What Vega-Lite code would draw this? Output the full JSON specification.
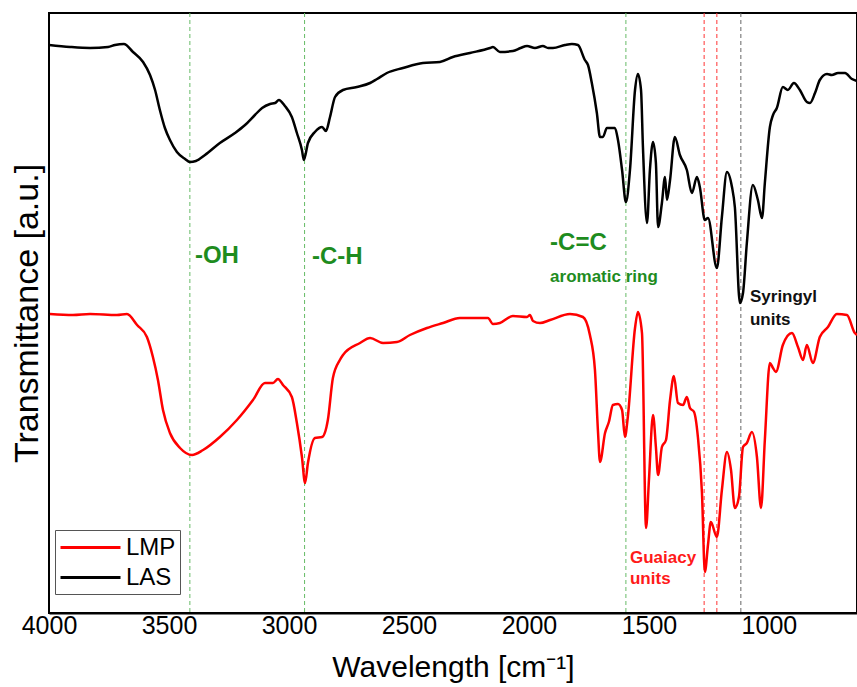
{
  "$schema": "https://vega.github.io/schema/vega-lite/v6.json",
  "width": 808,
  "height": 600,
  "autosize": "none",
  "padding": {"left": 49, "top": 13, "right": 0, "bottom": 74},
  "background": "white",
  "config": {
    "font": "Liberation Sans",
    "view": {"stroke": "black", "strokeWidth": 2},
    "axisX": {"labelFontSize": 25, "labelColor": "black", "labelFlush": false, "labelOverlap": false, "ticks": false, "grid": false, "domainColor": "black", "domainWidth": 2, "labelPadding": 0, "format": "d", "titleFontSize": 30, "titleFontWeight": "normal", "titleColor": "black", "titlePadding": 14},
    "axisY": {"titleFontSize": 34, "titleFontWeight": "normal", "titleColor": "black", "titlePadding": 5},
    "legend": {"orient": "none", "legendX": 6, "legendY": 517, "strokeColor": "#555555", "strokeWidth": 1, "padding": 4, "labelFontSize": 24, "labelColor": "black", "symbolType": "M-1,0H4", "symbolSize": 576, "symbolStrokeWidth": 3, "labelOffset": 40, "rowPadding": 4, "fillColor": "white"}
  },
  "datasets": {
    "spectra": [
      {"wn": 4000, "t": 568, "series": "LAS"}, {"wn": 3912, "t": 566, "series": "LAS"}, {"wn": 3829, "t": 565, "series": "LAS"}, {"wn": 3754, "t": 566, "series": "LAS"}, {"wn": 3725, "t": 568, "series": "LAS"}, {"wn": 3688, "t": 569, "series": "LAS"}, {"wn": 3650, "t": 561, "series": "LAS"}, {"wn": 3608, "t": 551, "series": "LAS"}, {"wn": 3579, "t": 538, "series": "LAS"}, {"wn": 3558, "t": 523, "series": "LAS"}, {"wn": 3538, "t": 503, "series": "LAS"}, {"wn": 3517, "t": 485, "series": "LAS"}, {"wn": 3496, "t": 473, "series": "LAS"}, {"wn": 3467, "t": 461, "series": "LAS"}, {"wn": 3433, "t": 454, "series": "LAS"}, {"wn": 3413, "t": 451, "series": "LAS"}, {"wn": 3388, "t": 452, "series": "LAS"}, {"wn": 3350, "t": 458, "series": "LAS"}, {"wn": 3288, "t": 470, "series": "LAS"}, {"wn": 3225, "t": 480, "series": "LAS"}, {"wn": 3183, "t": 488, "series": "LAS"}, {"wn": 3142, "t": 498, "series": "LAS"}, {"wn": 3112, "t": 505, "series": "LAS"}, {"wn": 3079, "t": 509, "series": "LAS"}, {"wn": 3058, "t": 510, "series": "LAS"}, {"wn": 3042, "t": 513, "series": "LAS"}, {"wn": 3017, "t": 507, "series": "LAS"}, {"wn": 2988, "t": 496, "series": "LAS"}, {"wn": 2967, "t": 480, "series": "LAS"}, {"wn": 2946, "t": 463, "series": "LAS"}, {"wn": 2938, "t": 453, "series": "LAS"}, {"wn": 2921, "t": 470, "series": "LAS"}, {"wn": 2892, "t": 481, "series": "LAS"}, {"wn": 2862, "t": 486, "series": "LAS"}, {"wn": 2846, "t": 482, "series": "LAS"}, {"wn": 2829, "t": 496, "series": "LAS"}, {"wn": 2808, "t": 516, "series": "LAS"}, {"wn": 2775, "t": 523, "series": "LAS"}, {"wn": 2717, "t": 526, "series": "LAS"}, {"wn": 2662, "t": 530, "series": "LAS"}, {"wn": 2633, "t": 534, "series": "LAS"}, {"wn": 2592, "t": 540, "series": "LAS"}, {"wn": 2525, "t": 545, "series": "LAS"}, {"wn": 2442, "t": 550, "series": "LAS"}, {"wn": 2371, "t": 551, "series": "LAS"}, {"wn": 2317, "t": 556, "series": "LAS"}, {"wn": 2246, "t": 560, "series": "LAS"}, {"wn": 2162, "t": 565, "series": "LAS"}, {"wn": 2150, "t": 566, "series": "LAS"}, {"wn": 2121, "t": 561, "series": "LAS"}, {"wn": 2067, "t": 562, "series": "LAS"}, {"wn": 2035, "t": 565, "series": "LAS"}, {"wn": 2008, "t": 567, "series": "LAS"}, {"wn": 1975, "t": 565, "series": "LAS"}, {"wn": 1942, "t": 567, "series": "LAS"}, {"wn": 1920, "t": 565, "series": "LAS"}, {"wn": 1900, "t": 565, "series": "LAS"}, {"wn": 1850, "t": 568, "series": "LAS"}, {"wn": 1821, "t": 569, "series": "LAS"}, {"wn": 1796, "t": 568, "series": "LAS"}, {"wn": 1767, "t": 553, "series": "LAS"}, {"wn": 1754, "t": 548, "series": "LAS"}, {"wn": 1738, "t": 530, "series": "LAS"}, {"wn": 1717, "t": 500, "series": "LAS"}, {"wn": 1704, "t": 476, "series": "LAS"}, {"wn": 1692, "t": 476, "series": "LAS"}, {"wn": 1675, "t": 485, "series": "LAS"}, {"wn": 1642, "t": 485, "series": "LAS"}, {"wn": 1629, "t": 473, "series": "LAS"}, {"wn": 1612, "t": 443, "series": "LAS"}, {"wn": 1596, "t": 411, "series": "LAS"}, {"wn": 1579, "t": 443, "series": "LAS"}, {"wn": 1558, "t": 523, "series": "LAS"}, {"wn": 1546, "t": 539, "series": "LAS"}, {"wn": 1533, "t": 523, "series": "LAS"}, {"wn": 1525, "t": 466, "series": "LAS"}, {"wn": 1508, "t": 390, "series": "LAS"}, {"wn": 1496, "t": 443, "series": "LAS"}, {"wn": 1483, "t": 471, "series": "LAS"}, {"wn": 1471, "t": 450, "series": "LAS"}, {"wn": 1462, "t": 386, "series": "LAS"}, {"wn": 1446, "t": 410, "series": "LAS"}, {"wn": 1433, "t": 436, "series": "LAS"}, {"wn": 1425, "t": 413, "series": "LAS"}, {"wn": 1412, "t": 433, "series": "LAS"}, {"wn": 1392, "t": 476, "series": "LAS"}, {"wn": 1371, "t": 458, "series": "LAS"}, {"wn": 1342, "t": 443, "series": "LAS"}, {"wn": 1321, "t": 420, "series": "LAS"}, {"wn": 1300, "t": 436, "series": "LAS"}, {"wn": 1288, "t": 426, "series": "LAS"}, {"wn": 1267, "t": 393, "series": "LAS"}, {"wn": 1254, "t": 395, "series": "LAS"}, {"wn": 1217, "t": 345, "series": "LAS"}, {"wn": 1196, "t": 396, "series": "LAS"}, {"wn": 1175, "t": 441, "series": "LAS"}, {"wn": 1154, "t": 426, "series": "LAS"}, {"wn": 1142, "t": 406, "series": "LAS"}, {"wn": 1121, "t": 310, "series": "LAS"}, {"wn": 1108, "t": 320, "series": "LAS"}, {"wn": 1092, "t": 370, "series": "LAS"}, {"wn": 1067, "t": 428, "series": "LAS"}, {"wn": 1046, "t": 413, "series": "LAS"}, {"wn": 1029, "t": 395, "series": "LAS"}, {"wn": 1017, "t": 430, "series": "LAS"}, {"wn": 996, "t": 486, "series": "LAS"}, {"wn": 983, "t": 498, "series": "LAS"}, {"wn": 967, "t": 505, "series": "LAS"}, {"wn": 942, "t": 526, "series": "LAS"}, {"wn": 921, "t": 523, "series": "LAS"}, {"wn": 896, "t": 530, "series": "LAS"}, {"wn": 871, "t": 523, "series": "LAS"}, {"wn": 842, "t": 511, "series": "LAS"}, {"wn": 829, "t": 510, "series": "LAS"}, {"wn": 808, "t": 520, "series": "LAS"}, {"wn": 788, "t": 533, "series": "LAS"}, {"wn": 758, "t": 539, "series": "LAS"}, {"wn": 738, "t": 538, "series": "LAS"}, {"wn": 712, "t": 540, "series": "LAS"}, {"wn": 683, "t": 540, "series": "LAS"}, {"wn": 654, "t": 534, "series": "LAS"}, {"wn": 633, "t": 532, "series": "LAS"},
      {"wn": 3996, "t": 299, "series": "LMP"}, {"wn": 3900, "t": 298, "series": "LMP"}, {"wn": 3829, "t": 299, "series": "LMP"}, {"wn": 3717, "t": 298, "series": "LMP"}, {"wn": 3675, "t": 299, "series": "LMP"}, {"wn": 3633, "t": 288, "series": "LMP"}, {"wn": 3592, "t": 276, "series": "LMP"}, {"wn": 3567, "t": 256, "series": "LMP"}, {"wn": 3546, "t": 233, "series": "LMP"}, {"wn": 3525, "t": 203, "series": "LMP"}, {"wn": 3496, "t": 180, "series": "LMP"}, {"wn": 3454, "t": 165, "series": "LMP"}, {"wn": 3404, "t": 158, "series": "LMP"}, {"wn": 3358, "t": 163, "series": "LMP"}, {"wn": 3288, "t": 176, "series": "LMP"}, {"wn": 3217, "t": 193, "series": "LMP"}, {"wn": 3150, "t": 213, "series": "LMP"}, {"wn": 3100, "t": 230, "series": "LMP"}, {"wn": 3067, "t": 230, "series": "LMP"}, {"wn": 3046, "t": 234, "series": "LMP"}, {"wn": 3025, "t": 228, "series": "LMP"}, {"wn": 2988, "t": 216, "series": "LMP"}, {"wn": 2967, "t": 190, "series": "LMP"}, {"wn": 2946, "t": 156, "series": "LMP"}, {"wn": 2933, "t": 130, "series": "LMP"}, {"wn": 2921, "t": 150, "series": "LMP"}, {"wn": 2892, "t": 175, "series": "LMP"}, {"wn": 2862, "t": 176, "series": "LMP"}, {"wn": 2838, "t": 193, "series": "LMP"}, {"wn": 2817, "t": 235, "series": "LMP"}, {"wn": 2788, "t": 253, "series": "LMP"}, {"wn": 2775, "t": 258, "series": "LMP"}, {"wn": 2704, "t": 270, "series": "LMP"}, {"wn": 2662, "t": 275, "series": "LMP"}, {"wn": 2608, "t": 270, "series": "LMP"}, {"wn": 2550, "t": 271, "series": "LMP"}, {"wn": 2496, "t": 278, "series": "LMP"}, {"wn": 2425, "t": 285, "series": "LMP"}, {"wn": 2358, "t": 290, "series": "LMP"}, {"wn": 2288, "t": 295, "series": "LMP"}, {"wn": 2171, "t": 295, "series": "LMP"}, {"wn": 2150, "t": 289, "series": "LMP"}, {"wn": 2121, "t": 290, "series": "LMP"}, {"wn": 2067, "t": 297, "series": "LMP"}, {"wn": 2008, "t": 296, "series": "LMP"}, {"wn": 1996, "t": 298, "series": "LMP"}, {"wn": 1983, "t": 292, "series": "LMP"}, {"wn": 1954, "t": 290, "series": "LMP"}, {"wn": 1912, "t": 293, "series": "LMP"}, {"wn": 1829, "t": 299, "series": "LMP"}, {"wn": 1775, "t": 296, "series": "LMP"}, {"wn": 1746, "t": 278, "series": "LMP"}, {"wn": 1725, "t": 243, "series": "LMP"}, {"wn": 1712, "t": 180, "series": "LMP"}, {"wn": 1704, "t": 151, "series": "LMP"}, {"wn": 1683, "t": 180, "series": "LMP"}, {"wn": 1667, "t": 191, "series": "LMP"}, {"wn": 1650, "t": 208, "series": "LMP"}, {"wn": 1629, "t": 209, "series": "LMP"}, {"wn": 1612, "t": 203, "series": "LMP"}, {"wn": 1600, "t": 176, "series": "LMP"}, {"wn": 1588, "t": 196, "series": "LMP"}, {"wn": 1558, "t": 285, "series": "LMP"}, {"wn": 1546, "t": 301, "series": "LMP"}, {"wn": 1529, "t": 280, "series": "LMP"}, {"wn": 1512, "t": 85, "series": "LMP"}, {"wn": 1500, "t": 133, "series": "LMP"}, {"wn": 1483, "t": 198, "series": "LMP"}, {"wn": 1471, "t": 166, "series": "LMP"}, {"wn": 1462, "t": 138, "series": "LMP"}, {"wn": 1446, "t": 166, "series": "LMP"}, {"wn": 1429, "t": 173, "series": "LMP"}, {"wn": 1412, "t": 213, "series": "LMP"}, {"wn": 1396, "t": 237, "series": "LMP"}, {"wn": 1379, "t": 210, "series": "LMP"}, {"wn": 1358, "t": 208, "series": "LMP"}, {"wn": 1342, "t": 216, "series": "LMP"}, {"wn": 1329, "t": 205, "series": "LMP"}, {"wn": 1312, "t": 201, "series": "LMP"}, {"wn": 1296, "t": 176, "series": "LMP"}, {"wn": 1279, "t": 120, "series": "LMP"}, {"wn": 1267, "t": 41, "series": "LMP"}, {"wn": 1254, "t": 68, "series": "LMP"}, {"wn": 1242, "t": 91, "series": "LMP"}, {"wn": 1217, "t": 76, "series": "LMP"}, {"wn": 1196, "t": 123, "series": "LMP"}, {"wn": 1175, "t": 161, "series": "LMP"}, {"wn": 1158, "t": 143, "series": "LMP"}, {"wn": 1142, "t": 105, "series": "LMP"}, {"wn": 1125, "t": 116, "series": "LMP"}, {"wn": 1108, "t": 166, "series": "LMP"}, {"wn": 1092, "t": 170, "series": "LMP"}, {"wn": 1071, "t": 181, "series": "LMP"}, {"wn": 1050, "t": 156, "series": "LMP"}, {"wn": 1033, "t": 105, "series": "LMP"}, {"wn": 1017, "t": 173, "series": "LMP"}, {"wn": 996, "t": 250, "series": "LMP"}, {"wn": 983, "t": 245, "series": "LMP"}, {"wn": 971, "t": 241, "series": "LMP"}, {"wn": 942, "t": 268, "series": "LMP"}, {"wn": 904, "t": 280, "series": "LMP"}, {"wn": 879, "t": 266, "series": "LMP"}, {"wn": 858, "t": 253, "series": "LMP"}, {"wn": 842, "t": 268, "series": "LMP"}, {"wn": 817, "t": 250, "series": "LMP"}, {"wn": 788, "t": 276, "series": "LMP"}, {"wn": 754, "t": 286, "series": "LMP"}, {"wn": 717, "t": 299, "series": "LMP"}, {"wn": 675, "t": 298, "series": "LMP"}, {"wn": 642, "t": 280, "series": "LMP"}, {"wn": 633, "t": 278, "series": "LMP"}
    ],
    "rules": [
      {"wn": 3413, "kind": "green"}, {"wn": 2935, "kind": "green"}, {"wn": 1596, "kind": "green"},
      {"wn": 1270, "kind": "red"}, {"wn": 1217, "kind": "red"}, {"wn": 1117, "kind": "gray"}
    ],
    "labels": [
      {"wn": 3392, "t": 350, "text": "-OH", "kind": "big"},
      {"wn": 2904, "t": 349, "text": "-C-H", "kind": "big"},
      {"wn": 1912, "t": 363, "text": "-C=C", "kind": "big"},
      {"wn": 1912, "t": 331, "text": "aromatic ring", "kind": "small"},
      {"wn": 1079, "t": 311, "text": "Syringyl\nunits", "kind": "syr"},
      {"wn": 1579, "t": 50, "text": "Guaiacy\nunits", "kind": "gua"}
    ]
  },
  "encoding": {
    "x": {"field": "wn", "type": "quantitative", "title": "Wavelength [cm⁻¹]", "scale": {"domain": [4000, 633], "nice": false, "zero": false}, "axis": {"values": [4000, 3500, 3000, 2500, 2000, 1500, 1000]}}
  },
  "layer": [
    {"data": {"name": "rules"}, "transform": [{"filter": "datum.kind === 'green'"}], "mark": {"type": "rule", "color": "#66bb66", "strokeWidth": 1, "strokeDash": [4, 3]}},
    {"data": {"name": "rules"}, "transform": [{"filter": "datum.kind === 'red'"}], "mark": {"type": "rule", "color": "#ff3333", "strokeWidth": 1, "strokeDash": [4, 3]}},
    {"data": {"name": "rules"}, "transform": [{"filter": "datum.kind === 'gray'"}], "mark": {"type": "rule", "color": "#666666", "strokeWidth": 1, "strokeDash": [4, 3]}},
    {"data": {"name": "spectra"}, "mark": {"type": "line", "strokeWidth": 2.5, "interpolate": "monotone"},
     "encoding": {
       "y": {"field": "t", "type": "quantitative", "title": "Transmittance [a.u.]", "scale": {"domain": [0, 600], "nice": false, "zero": false}, "axis": {"labels": false, "ticks": false, "domain": false, "grid": false}},
       "color": {"field": "series", "type": "nominal", "scale": {"domain": ["LMP", "LAS"], "range": ["#ff0000", "#000000"]}, "legend": {"title": null}},
       "detail": {"field": "series"}
     }},
    {"data": {"name": "labels"}, "transform": [{"filter": "datum.kind === 'big'"}], "mark": {"type": "text", "align": "left", "baseline": "alphabetic", "fontSize": 24, "fontWeight": "bold", "color": "#1e8c1e"},
     "encoding": {"y": {"field": "t", "type": "quantitative"}, "text": {"field": "text"}}},
    {"data": {"name": "labels"}, "transform": [{"filter": "datum.kind === 'small'"}], "mark": {"type": "text", "align": "left", "baseline": "alphabetic", "fontSize": 17, "fontWeight": "bold", "color": "#1e8c1e"},
     "encoding": {"y": {"field": "t", "type": "quantitative"}, "text": {"field": "text"}}},
    {"data": {"name": "labels"}, "transform": [{"filter": "datum.kind === 'syr'"}], "mark": {"type": "text", "align": "left", "baseline": "alphabetic", "fontSize": 17, "fontWeight": "bold", "color": "#111111", "lineBreak": "\n", "lineHeight": 23},
     "encoding": {"y": {"field": "t", "type": "quantitative"}, "text": {"field": "text"}}},
    {"data": {"name": "labels"}, "transform": [{"filter": "datum.kind === 'gua'"}], "mark": {"type": "text", "align": "left", "baseline": "alphabetic", "fontSize": 17, "fontWeight": "bold", "color": "#ff1a1a", "lineBreak": "\n", "lineHeight": 21},
     "encoding": {"y": {"field": "t", "type": "quantitative"}, "text": {"field": "text"}}}
  ]
}
